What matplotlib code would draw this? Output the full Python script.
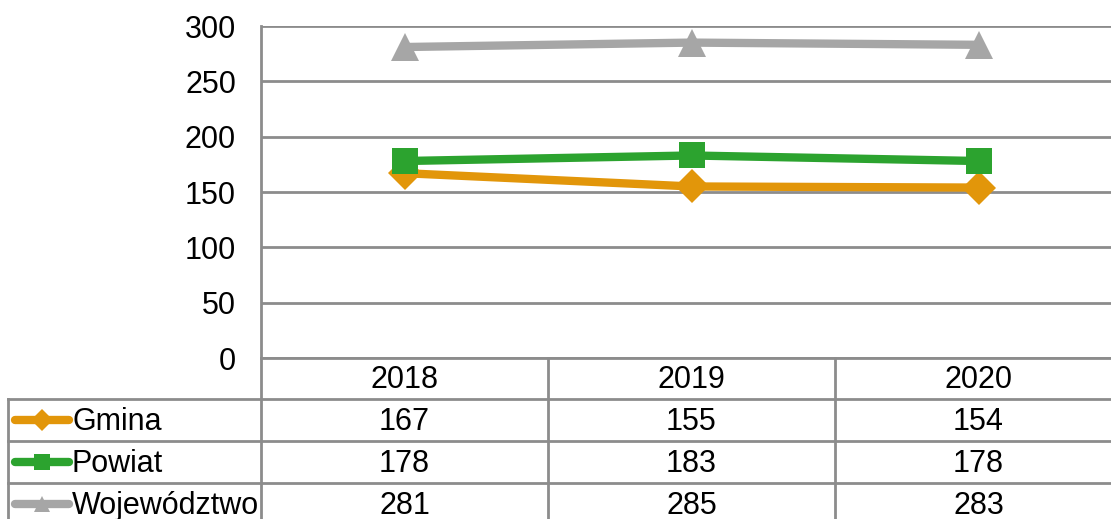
import matplotlib.pyplot as plt
from matplotlib.lines import Line2D

plt.rcParams['font.family'] = ['Liberation Sans', 'DejaVu Sans']

years = ['2018', '2019', '2020']
gmina = [167, 155, 154]
powiat = [178, 183, 178]
wojewodztwo = [281, 285, 283]

names = ['Gmina', 'Powiat', 'Województwo']
series = [gmina, powiat, wojewodztwo]
colors = ['#E2960A', '#2CA32F', '#A6A6A6']
markers = ['D', 's', '^']
msizes = [17, 19, 20]

W, H = 1111, 519
fig = plt.figure(figsize=(W / 100, H / 100), dpi=100)

# plot area in pixels: left 261, right 1122 (runs off the edge), top 26, bottom 358
L, R, T, B = 261, 1122, 26, 358
ax = fig.add_axes([L / W, (H - B) / H, (R - L) / W, (B - T) / H])

grid_col = '#8C8C8C'
x = range(len(years))
for vals, c, m, ms in zip(series, colors, markers, msizes):
    ax.plot(x, vals, color=c, lw=6, marker=m, markersize=ms,
            markeredgewidth=0, solid_capstyle='round', zorder=3)

ax.set_xlim(-0.5, len(years) - 0.5)
ax.set_ylim(0, 300)
ax.set_yticks(range(0, 301, 50))
ax.yaxis.grid(True, color=grid_col, lw=2)
ax.set_axisbelow(True)
ax.set_xticks([])
ax.tick_params(axis='y', length=0, pad=18, labelsize=22)
for s in ['top', 'right', 'bottom']:
    ax.spines[s].set_visible(False)
ax.spines['left'].set_color(grid_col)
ax.spines['left'].set_linewidth(2)


# data table below the plot, figure pixel coordinates
def fx(px):
    return px / W


def fy(py):
    return (H - py) / H


def hline(x0, x1, y):
    fig.add_artist(Line2D([fx(x0), fx(x1)], [fy(y), fy(y)], color=grid_col,
                          lw=2, transform=fig.transFigure))


def vline(xp, y0, y1):
    fig.add_artist(Line2D([fx(xp), fx(xp)], [fy(y0), fy(y1)], color=grid_col,
                          lw=2, transform=fig.transFigure))


row_edges = [358, 399, 441, 483, 525]
col_w = (R - L) / len(years)
col_centers = [L + col_w * (i + 0.5) for i in range(len(years))]

hline(L, W + 5, row_edges[0])
for y in row_edges[1:4]:
    hline(8, W + 5, y)
vline(L, row_edges[0], H + 5)
vline(8, row_edges[1], H + 5)
for i in range(1, len(years)):
    vline(L + col_w * i, row_edges[0], H + 5)

txt_dy = 2
hdr_y = (row_edges[0] + row_edges[1]) / 2 + txt_dy
for cx, yr in zip(col_centers, years):
    fig.text(fx(cx), fy(hdr_y), yr, ha='center', va='center', fontsize=22)

for r, (name, vals, c, m) in enumerate(zip(names, series, colors, markers)):
    cy = (row_edges[r + 1] + row_edges[r + 2]) / 2
    fig.add_artist(Line2D([fx(15), fx(69)], [fy(cy), fy(cy)], color=c, lw=6,
                          solid_capstyle='round', transform=fig.transFigure))
    fig.add_artist(Line2D([fx(42)], [fy(cy)], color=c, marker=m, markersize=11,
                          markeredgewidth=0, transform=fig.transFigure))
    fig.text(fx(72), fy(cy + txt_dy), name, ha='left', va='center', fontsize=22)
    for cx, v in zip(col_centers, vals):
        fig.text(fx(cx), fy(cy + txt_dy), str(v), ha='center', va='center', fontsize=22)

plt.savefig('out.png', dpi=100)
